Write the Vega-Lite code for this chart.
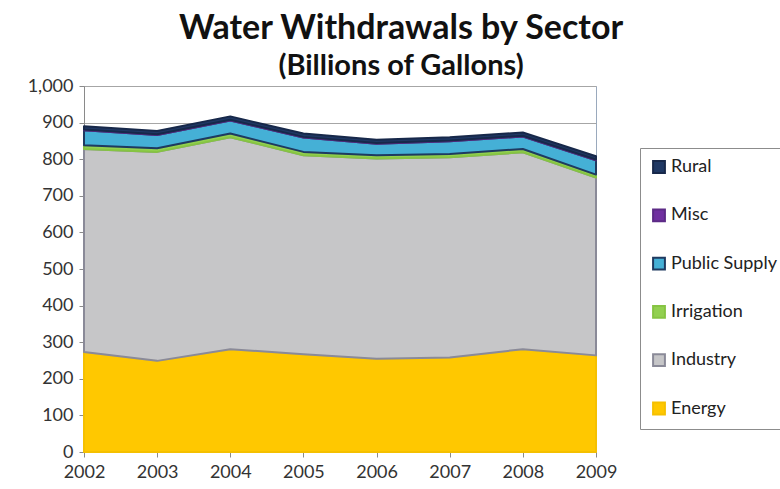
{
  "$schema": "https://vega.github.io/schema/vega-lite/v6.json",
  "autosize": {"type": "none"},
  "padding": {"left": 84, "top": 86, "right": 184, "bottom": 37},
  "width": 512,
  "height": 366,
  "background": "white",
  "title": {
    "text": "Water  Withdrawals by Sector",
    "subtitle": "(Billions of Gallons)",
    "anchor": "middle",
    "frame": "group",
    "dx": 61,
    "offset": -4,
    "font": "Lato",
    "fontSize": 34,
    "fontWeight": "bold",
    "color": "#111111",
    "subtitleFont": "Lato",
    "subtitleFontSize": 29,
    "subtitleFontWeight": "bold",
    "subtitleColor": "#111111",
    "subtitlePadding": 6
  },
  "config": {
    "view": {"stroke": "#9aa9bd", "strokeWidth": 1},
    "axis": {
      "labelFont": "Lato",
      "labelFontSize": 18,
      "labelColor": "#333333",
      "domainColor": "#8a8a8a",
      "tickColor": "#8a8a8a",
      "tickSize": 5,
      "gridColor": "#a6a6a6",
      "title": null
    }
  },
  "data": {
    "values": [
      {"year": 2002, "sector": "Energy", "ord": 1, "value": 273},
      {"year": 2003, "sector": "Energy", "ord": 1, "value": 249},
      {"year": 2004, "sector": "Energy", "ord": 1, "value": 281},
      {"year": 2005, "sector": "Energy", "ord": 1, "value": 267},
      {"year": 2006, "sector": "Energy", "ord": 1, "value": 255},
      {"year": 2007, "sector": "Energy", "ord": 1, "value": 258},
      {"year": 2008, "sector": "Energy", "ord": 1, "value": 281},
      {"year": 2009, "sector": "Energy", "ord": 1, "value": 264},
      {"year": 2002, "sector": "Industry", "ord": 2, "value": 555},
      {"year": 2003, "sector": "Industry", "ord": 2, "value": 571},
      {"year": 2004, "sector": "Industry", "ord": 2, "value": 579},
      {"year": 2005, "sector": "Industry", "ord": 2, "value": 544},
      {"year": 2006, "sector": "Industry", "ord": 2, "value": 547},
      {"year": 2007, "sector": "Industry", "ord": 2, "value": 547},
      {"year": 2008, "sector": "Industry", "ord": 2, "value": 538},
      {"year": 2009, "sector": "Industry", "ord": 2, "value": 486},
      {"year": 2002, "sector": "Irrigation", "ord": 3, "value": 10},
      {"year": 2003, "sector": "Irrigation", "ord": 3, "value": 10},
      {"year": 2004, "sector": "Irrigation", "ord": 3, "value": 10},
      {"year": 2005, "sector": "Irrigation", "ord": 3, "value": 9},
      {"year": 2006, "sector": "Irrigation", "ord": 3, "value": 9},
      {"year": 2007, "sector": "Irrigation", "ord": 3, "value": 9},
      {"year": 2008, "sector": "Irrigation", "ord": 3, "value": 9},
      {"year": 2009, "sector": "Irrigation", "ord": 3, "value": 8},
      {"year": 2002, "sector": "Public Supply", "ord": 4, "value": 41},
      {"year": 2003, "sector": "Public Supply", "ord": 4, "value": 36},
      {"year": 2004, "sector": "Public Supply", "ord": 4, "value": 36},
      {"year": 2005, "sector": "Public Supply", "ord": 4, "value": 39},
      {"year": 2006, "sector": "Public Supply", "ord": 4, "value": 31},
      {"year": 2007, "sector": "Public Supply", "ord": 4, "value": 35},
      {"year": 2008, "sector": "Public Supply", "ord": 4, "value": 34},
      {"year": 2009, "sector": "Public Supply", "ord": 4, "value": 39},
      {"year": 2002, "sector": "Misc", "ord": 5, "value": 2},
      {"year": 2003, "sector": "Misc", "ord": 5, "value": 2},
      {"year": 2004, "sector": "Misc", "ord": 5, "value": 2},
      {"year": 2005, "sector": "Misc", "ord": 5, "value": 2},
      {"year": 2006, "sector": "Misc", "ord": 5, "value": 2},
      {"year": 2007, "sector": "Misc", "ord": 5, "value": 2},
      {"year": 2008, "sector": "Misc", "ord": 5, "value": 2},
      {"year": 2009, "sector": "Misc", "ord": 5, "value": 2},
      {"year": 2002, "sector": "Rural", "ord": 6, "value": 9},
      {"year": 2003, "sector": "Rural", "ord": 6, "value": 9},
      {"year": 2004, "sector": "Rural", "ord": 6, "value": 9},
      {"year": 2005, "sector": "Rural", "ord": 6, "value": 9},
      {"year": 2006, "sector": "Rural", "ord": 6, "value": 9},
      {"year": 2007, "sector": "Rural", "ord": 6, "value": 9},
      {"year": 2008, "sector": "Rural", "ord": 6, "value": 9},
      {"year": 2009, "sector": "Rural", "ord": 6, "value": 9}
    ]
  },
  "mark": {"type": "area", "strokeWidth": 2, "fillOpacity": 1, "strokeJoin": "round"},
  "encoding": {
    "x": {
      "field": "year",
      "type": "quantitative",
      "scale": {"domain": [2002, 2009], "nice": false, "zero": false},
      "axis": {
        "values": [2002, 2003, 2004, 2005, 2006, 2007, 2008, 2009],
        "format": "d",
        "grid": false,
        "labelPadding": 6,
        "labelFlush": false
      }
    },
    "y": {
      "field": "value",
      "type": "quantitative",
      "aggregate": "sum",
      "stack": "zero",
      "scale": {"domain": [0, 1000], "nice": false},
      "axis": {
        "values": [0, 100, 200, 300, 400, 500, 600, 700, 800, 900, 1000],
        "format": ",d",
        "grid": true,
        "labelPadding": 6
      }
    },
    "order": {"field": "ord", "type": "quantitative"},
    "fill": {
      "field": "sector",
      "type": "nominal",
      "scale": {
        "domain": ["Rural", "Misc", "Public Supply", "Irrigation", "Industry", "Energy"],
        "range": ["#1f3864", "#7030a0", "#45b0d6", "#92d050", "#c6c6c8", "#ffc800"]
      },
      "legend": {
        "title": null,
        "orient": "none",
        "legendX": 556,
        "legendY": 62,
        "padding": 10,
        "rowPadding": 28.3,
        "symbolType": "square",
        "symbolSize": 140,
        "symbolStrokeWidth": 2,
        "labelFont": "Lato",
        "labelFontSize": 18,
        "labelColor": "#222222",
        "labelOffset": 3,
        "fillColor": "white",
        "strokeColor": "#8c8c8c"
      }
    },
    "stroke": {
      "field": "sector",
      "type": "nominal",
      "scale": {
        "domain": ["Rural", "Misc", "Public Supply", "Irrigation", "Industry", "Energy"],
        "range": ["#17284a", "#5c2a86", "#1f3a60", "#86c443", "#8a8a98", "#f5c000"]
      }
    }
  }
}
